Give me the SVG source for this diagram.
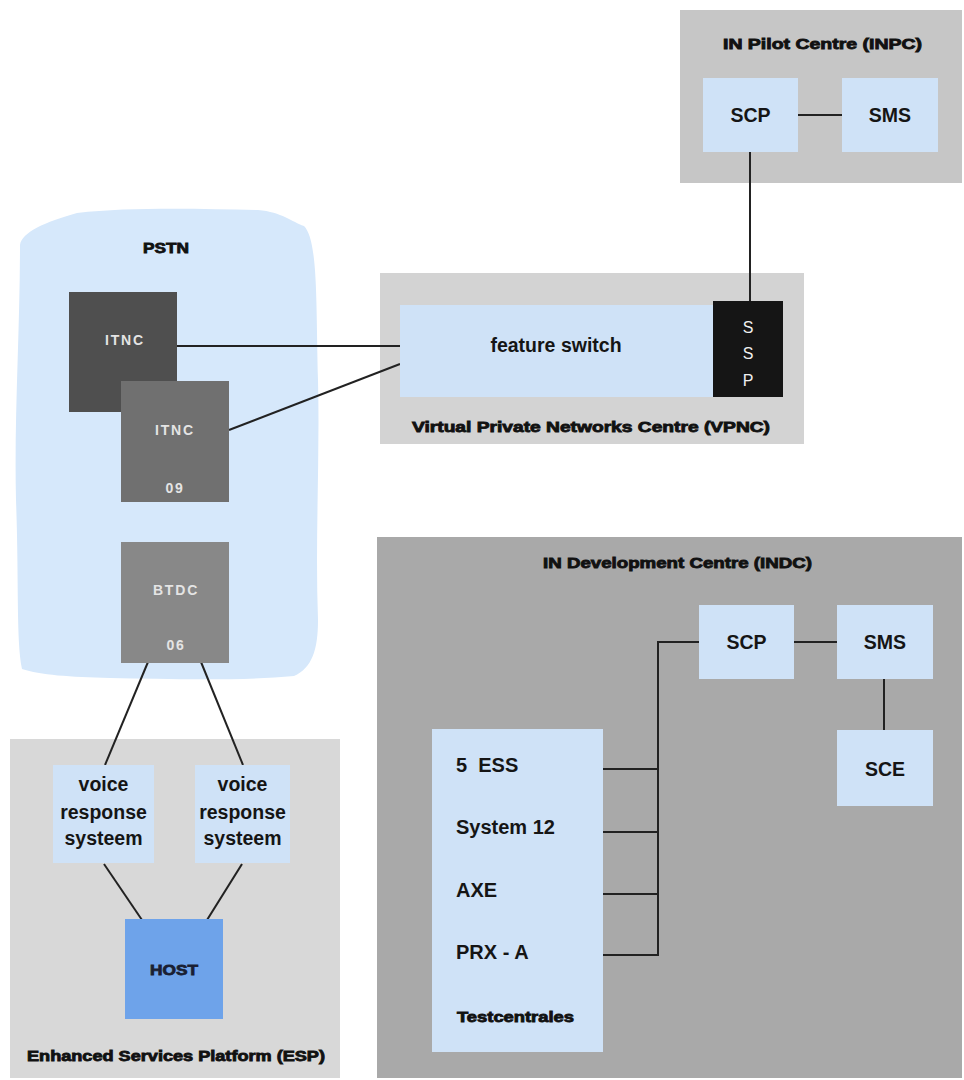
<svg xmlns="http://www.w3.org/2000/svg" width="964" height="1080" viewBox="0 0 964 1080">
  <style>
    .heavy { font-family: "Liberation Sans", Arial, sans-serif; font-weight: bold; font-size: 14px; fill: #111; stroke: #111; stroke-width: 0.8px; text-anchor: middle; }
    .lbl { font-family: "Liberation Sans", Arial, sans-serif; font-weight: bold; font-size: 19.5px; fill: #151515; text-anchor: middle; }
    .lbll { font-family: "Liberation Sans", Arial, sans-serif; font-weight: bold; font-size: 20px; fill: #151515; }
    .wt { font-family: "Liberation Sans", Arial, sans-serif; font-weight: bold; font-size: 14px; fill: #e4e4e4; text-anchor: middle; letter-spacing: 1.8px; }
    .ssp { font-family: "Liberation Sans", Arial, sans-serif; font-size: 16px; fill: #f0f0f0; text-anchor: middle; }
    .node { fill: #cfe2f7; }
    .conn { stroke: #222; stroke-width: 2; fill: none; }
  </style>
  <rect width="964" height="1080" fill="#ffffff"/>

  <!-- Containers -->
  <g id="inpc">
    <rect x="680" y="10" width="282" height="173" fill="#c6c6c6"/>
    <text class="heavy" x="822.5" y="49" textLength="199" lengthAdjust="spacingAndGlyphs">IN Pilot Centre (INPC)</text>
  </g>
  <g id="pstn">
    <path d="M 20,245 C 22,232 45,222 77,213 C 130,207 200,209 258,210 C 282,212 292,222 304,226 C 318,240 316,300 318,380 C 320,460 315,540 318,620 C 318,650 312,668 294,676 C 240,681 170,679 110,678 C 70,677 40,675 22,669 C 16,640 19,580 16,500 C 14,420 20,330 20,245 Z" fill="#d6e8fb"/>
    <text class="heavy" x="166" y="253" textLength="46" lengthAdjust="spacingAndGlyphs">PSTN</text>
  </g>
  <g id="vpnc">
    <rect x="380" y="273" width="424" height="171" fill="#d3d3d3"/>
    <text class="heavy" x="591" y="432" textLength="358" lengthAdjust="spacingAndGlyphs">Virtual Private Networks Centre (VPNC)</text>
  </g>
  <g id="indc">
    <rect x="377" y="537" width="585" height="541" fill="#a9a9a9"/>
    <text class="heavy" x="677.5" y="568" textLength="269" lengthAdjust="spacingAndGlyphs">IN Development Centre (INDC)</text>
  </g>
  <g id="esp">
    <rect x="10" y="739" width="330" height="339" fill="#d8d8d8"/>
    <text class="heavy" x="176" y="1061" textLength="298" lengthAdjust="spacingAndGlyphs">Enhanced Services Platform (ESP)</text>
  </g>

  <!-- Connectors -->
  <g id="connectors">
    <line class="conn" x1="798" y1="115" x2="842" y2="115"/>
    <line class="conn" x1="750" y1="152" x2="750" y2="301"/>
    <line class="conn" x1="177" y1="346" x2="400" y2="346"/>
    <line class="conn" x1="229" y1="430" x2="400" y2="364"/>
    <line class="conn" x1="148" y1="662" x2="105" y2="765"/>
    <line class="conn" x1="201" y1="662" x2="243" y2="765"/>
    <line class="conn" x1="104" y1="864" x2="142" y2="920"/>
    <line class="conn" x1="242" y1="864" x2="207" y2="920"/>
    <polyline class="conn" points="699,642 658,642 658,955 603,955"/>
    <line class="conn" x1="603" y1="769" x2="658" y2="769"/>
    <line class="conn" x1="603" y1="832" x2="658" y2="832"/>
    <line class="conn" x1="603" y1="894" x2="658" y2="894"/>
    <line class="conn" x1="794" y1="642" x2="837" y2="642"/>
    <line class="conn" x1="884" y1="679" x2="884" y2="730"/>
  </g>

  <!-- INPC nodes -->
  <g id="inpc-scp">
    <rect class="node" x="703" y="78" width="95" height="74" fill="#c7def6"/>
    <text class="lbl" x="750.5" y="122">SCP</text>
  </g>
  <g id="inpc-sms">
    <rect class="node" x="842" y="78" width="96" height="74"/>
    <text class="lbl" x="890" y="122">SMS</text>
  </g>

  <!-- PSTN nodes -->
  <g id="itnc1">
    <rect x="69" y="292" width="108" height="120" fill="#4f4f4f"/>
    <text class="wt" x="125" y="345">ITNC</text>
  </g>
  <g id="itnc2">
    <rect x="121" y="381" width="108" height="121" fill="#707070"/>
    <text class="wt" x="175" y="435">ITNC</text>
    <text class="wt" x="175" y="493">09</text>
  </g>
  <g id="btdc">
    <rect x="121" y="542" width="108" height="121" fill="#888888"/>
    <text class="wt" x="176" y="595">BTDC</text>
    <text class="wt" x="176" y="650">06</text>
  </g>

  <!-- VPNC nodes -->
  <g id="feature-switch">
    <rect class="node" x="400" y="305" width="313" height="92"/>
    <text class="lbl" x="556" y="352">feature switch</text>
  </g>
  <g id="ssp">
    <rect x="713" y="301" width="70" height="96" fill="#151515"/>
    <text class="ssp" x="748" y="333">S</text>
    <text class="ssp" x="748" y="359">S</text>
    <text class="ssp" x="748" y="386">P</text>
  </g>

  <!-- ESP nodes -->
  <g id="vrs1">
    <rect class="node" x="53" y="765" width="101" height="98" fill="#d3e5f8"/>
    <text class="lbl" x="103.5" y="791">voice</text>
    <text class="lbl" x="103.5" y="819">response</text>
    <text class="lbl" x="103.5" y="845">systeem</text>
  </g>
  <g id="vrs2">
    <rect class="node" x="195" y="765" width="95" height="98" fill="#d3e5f8"/>
    <text class="lbl" x="242.5" y="791">voice</text>
    <text class="lbl" x="242.5" y="819">response</text>
    <text class="lbl" x="242.5" y="845">systeem</text>
  </g>
  <g id="host">
    <rect x="125" y="919" width="98" height="100" fill="#6ea3ea"/>
    <text class="heavy" x="174" y="975" textLength="48" lengthAdjust="spacingAndGlyphs" style="fill:#1a1f33;stroke:#1a1f33;font-size:15px">HOST</text>
  </g>

  <!-- INDC nodes -->
  <g id="indc-scp">
    <rect class="node" x="699" y="605" width="95" height="74"/>
    <text class="lbl" x="746.5" y="649">SCP</text>
  </g>
  <g id="indc-sms">
    <rect class="node" x="837" y="605" width="96" height="74"/>
    <text class="lbl" x="885" y="649">SMS</text>
  </g>
  <g id="indc-sce">
    <rect class="node" x="837" y="730" width="96" height="76"/>
    <text class="lbl" x="885" y="776">SCE</text>
  </g>
  <g id="testcentrales">
    <rect class="node" x="432" y="729" width="171" height="323" fill="#d3e5f8"/>
    <text class="lbll" x="456" y="772" xml:space="preserve">5  ESS</text>
    <text class="lbll" x="456" y="834">System 12</text>
    <text class="lbll" x="456" y="897">AXE</text>
    <text class="lbll" x="456" y="959">PRX - A</text>
    <text class="heavy" x="515.5" y="1022" textLength="117" lengthAdjust="spacingAndGlyphs" style="font-size:14px">Testcentrales</text>
  </g>
</svg>
